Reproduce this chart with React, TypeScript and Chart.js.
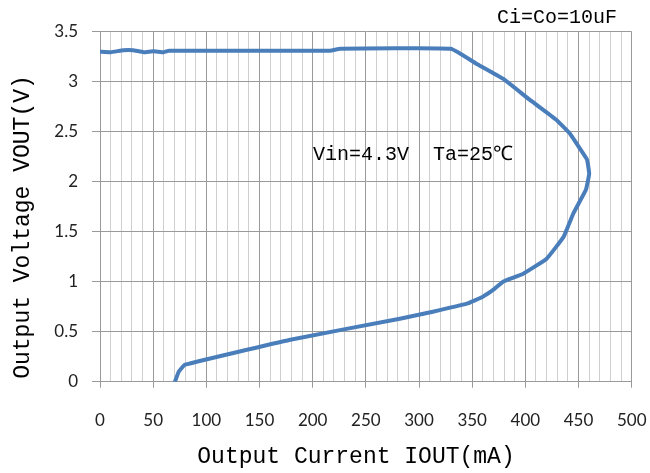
import React, { useEffect, useRef } from "react";
import { Chart, registerables } from "chart.js";

Chart.register(...registerables);

// Output current IOUT (mA)
const currentMA: number[] = [
  0, 10, 22, 31, 41, 50, 60, 65, 120, 216, 226, 330, 354, 379, 404, 429, 442,
  452, 458, 460, 457, 450, 445, 436, 420, 398, 379, 370, 360, 345, 313, 282,
  179, 80, 74, 70.5,
];
// Output voltage VOUT (V)
const voltageV: number[] = [
  3.3, 3.295, 3.315, 3.315, 3.295, 3.305, 3.295, 3.31, 3.31, 3.31, 3.33, 3.33,
  3.18, 3.03, 2.82, 2.62, 2.48, 2.32, 2.22, 2.08, 1.92, 1.78, 1.68, 1.45, 1.23,
  1.08, 1.0, 0.92, 0.85, 0.78, 0.7, 0.63, 0.42, 0.17, 0.1, 0.0,
];

const xTitle = "Output Current IOUT(mA)";
const yTitle = "Output Voltage VOUT(V)";
const noteCap = "Ci=Co=10uF";
const noteCond = "Vin=4.3V  Ta=25℃";

const W = 650;
const H = 473;
const monoFont = "'Liberation Mono', 'DejaVu Sans Mono', monospace";
const tickFont = "Lato";

export default function App() {
  const ref = useRef<HTMLCanvasElement | null>(null);

  useEffect(() => {
    if (!ref.current) return;
    const points = currentMA.map((x, i) => ({ x, y: voltageV[i] }));

    const textPlugin = {
      id: "texts",
      afterDraw(chart: any) {
        const ctx = chart.ctx as CanvasRenderingContext2D;
        ctx.save();
        ctx.fillStyle = "#000";
        ctx.font = `23px ${monoFont}`;
        ctx.textAlign = "center";
        ctx.textBaseline = "alphabetic";
        ctx.fillText(xTitle, 356, 463);
        ctx.save();
        ctx.translate(29, 227);
        ctx.rotate(-Math.PI / 2);
        ctx.fillText(yTitle, 0, 0);
        ctx.restore();
        ctx.font = `20px ${monoFont}`;
        ctx.textAlign = "left";
        ctx.fillText(noteCap, 497, 23);
        ctx.fillText(noteCond, 313, 160);
        ctx.restore();
      },
    };

    const chart = new Chart(ref.current, {
      type: "scatter",
      data: {
        datasets: [
          {
            data: points,
            showLine: true,
            borderColor: "#4a7ebb",
            backgroundColor: "#4a7ebb",
            borderWidth: 4,
            pointRadius: 0,
            tension: 0.1,
            borderCapStyle: "round",
            borderJoinStyle: "round",
          } as any,
        ],
      },
      options: {
        animation: false,
        responsive: false,
        devicePixelRatio: 1,
        layout: { padding: { top: 31.7, right: 18.3, left: 0, bottom: 0 } },
        plugins: {
          legend: { display: false },
          tooltip: { enabled: false },
        },
        scales: {
          x: {
            type: "linear",
            min: 0,
            max: 500,
            afterFit: (s: any) => {
              s.height = 91.3;
              s.paddingLeft = 0;
              s.paddingRight = 0;
            },
            ticks: {
              stepSize: 10,
              autoSkip: false,
              maxRotation: 0,
              minRotation: 0,
              padding: 23,
              color: "#222",
              font: { family: tickFont, size: 17 },
              callback: (v: any) => (Number(v) % 50 === 0 ? String(v) : ""),
            },
            grid: {
              color: (c: any) =>
                c.tick && c.tick.value % 50 === 0 ? "#9a9a9a" : "#cfcfcf",
              tickColor: (c: any) =>
                c.tick && c.tick.value % 50 === 0 ? "#9a9a9a" : "rgba(0,0,0,0)",
              tickLength: 6,
              lineWidth: 1,
            },
            border: { color: "#9a9a9a" },
          },
          y: {
            type: "linear",
            min: 0,
            max: 3.5,
            afterFit: (s: any) => {
              s.width = 100;
              s.paddingTop = 0;
              s.paddingBottom = 0;
            },
            ticks: {
              stepSize: 0.5,
              padding: 14,
              color: "#222",
              font: { family: tickFont, size: 17 },
              callback: (v: any) => String(Math.round(Number(v) * 10) / 10),
            },
            grid: {
              color: "#9a9a9a",
              tickColor: "#9a9a9a",
              tickLength: 8,
              lineWidth: 1,
            },
            border: { color: "#9a9a9a" },
          },
        },
      },
      plugins: [textPlugin],
    });
    return () => chart.destroy();
  }, []);

  return (
    <div style={{ position: "fixed", left: 0, top: 0, width: W, height: H, background: "#fff" }}>
      <canvas ref={ref} width={W} height={H} style={{ width: W, height: H, display: "block" }} />
    </div>
  );
}
